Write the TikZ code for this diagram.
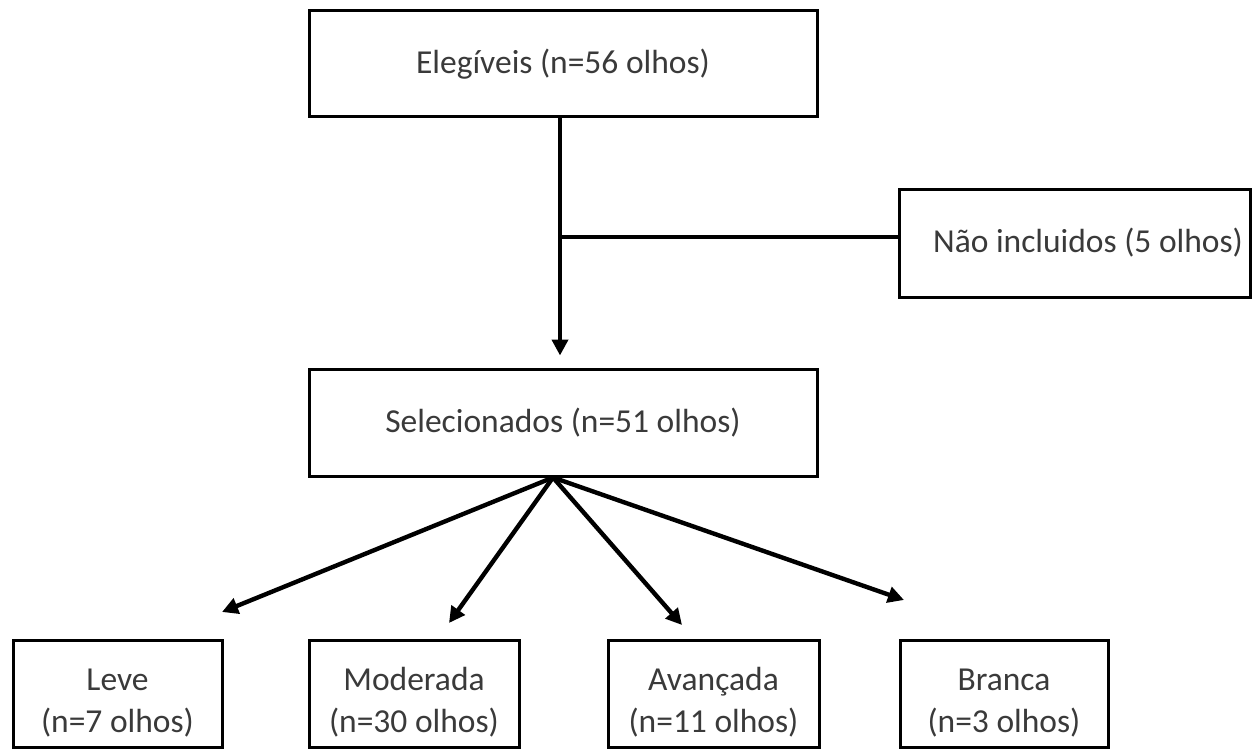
\documentclass[tikz,border=0pt]{standalone}
\usepackage{fontspec}
\setmainfont{Carlito}
\usetikzlibrary{arrows.meta}
\definecolor{txt}{HTML}{3A3A3A}
\newcommand{\topstrut}{\rule{0pt}{20pt}}
\begin{document}
\begin{tikzpicture}[x=0.5pt,y=-0.5pt,
  box/.style={draw=black, line width=1.5pt, fill=white, text=txt,
    font=\fontsize{16.75}{21}\selectfont, align=center, inner sep=0pt},
  leaf/.style={box, minimum height=53.5pt},
  conn/.style={line width=2.2pt, draw=black},
  arr/.style={conn, -{Triangle[length=8pt,width=8pt]}}]
\useasboundingbox (0,0) rectangle (1258,749);
\node[box, minimum width=254pt, minimum height=53pt] (eleg) at (563,64) {Elegíveis (n=56 olhos)};
\node[box, text width=168.5pt, inner xsep=3.5pt, align=flush right, minimum height=54pt] (naoinc) at (1074.5,243) {Não incluidos (5 olhos)};
\node[box, minimum width=254pt, minimum height=53.5pt] (sel) at (563,422.5) {Selecionados (n=51 olhos)};
\node[leaf, minimum width=104.5pt] (leve) at (117.5,693.5) {\topstrut Leve\\(n=7 olhos)};
\node[leaf, minimum width=105pt] (mod) at (414,693.5) {\topstrut Moderada\\(n=30 olhos)};
\node[leaf, minimum width=105.5pt] (ava) at (713.5,693.5) {\topstrut Avançada\\(n=11 olhos)};
\node[leaf, minimum width=104pt] (bra) at (1004,693.5) {\topstrut Branca\\(n=3 olhos)};
\coordinate (j) at (560,237);
\coordinate (t1) at (222,612);
\coordinate (t2) at (449,623);
\coordinate (t3) at (682,625);
\coordinate (t4) at (904,600);
\draw[arr, shorten >=6pt] (eleg.south -| j) -- (sel.north -| j);
\draw[conn] (j) -- (j -| naoinc.west);
\draw[arr] ([xshift=-5pt]sel.south) -- (t1);
\draw[arr] ([xshift=-5pt]sel.south) -- (t2);
\draw[arr] ([xshift=-5pt]sel.south) -- (t3);
\draw[arr] ([xshift=-5pt]sel.south) -- (t4);
\end{tikzpicture}
\end{document}
